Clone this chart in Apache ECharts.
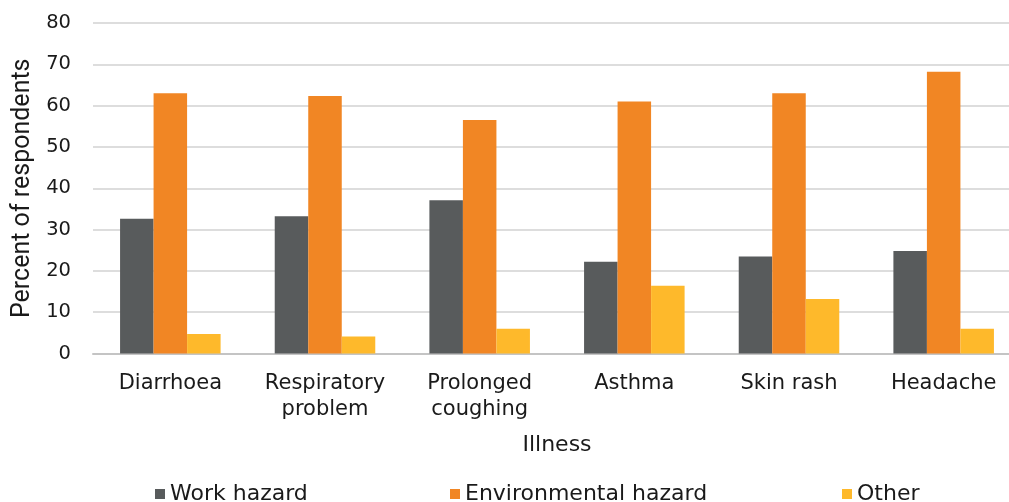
<!DOCTYPE html>
<html>
<head>
<meta charset="utf-8">
<title>Illness by perceived cause</title>
<script src="https://cdn.jsdelivr.net/npm/echarts@6/dist/echarts.min.js"></script>
<style>
  html, body { margin: 0; padding: 0; background: #ffffff; }
  #chart { width: 1009px; height: 502px; }
</style>
</head>
<body>
<div id="chart"></div>
<script>
// Illness categories (x axis); "\n" splits two-line labels
const categories = ['Diarrhoea', 'Respiratory\nproblem', 'Prolonged\ncoughing', 'Asthma', 'Skin rash', 'Headache'];

// Percent of respondents attributing each illness to a cause
const workHazard = [32.6, 33.2, 37.1, 22.2, 23.5, 24.8];
const environmentalHazard = [63.0, 62.3, 56.5, 61.0, 63.0, 68.2];
const other = [4.7, 4.1, 6.0, 16.4, 13.2, 6.0];

const seriesNames = ['Work hazard', 'Environmental hazard', 'Other'];
const seriesColors = ['#585b5c', '#f18624', '#feb92b'];

// Y axis range and step
const yMin = 0;
const yMax = 80;
const yStep = 10;

const textFont = 'DejaVu Sans';
const textColor = '#1a1a1a';

const chart = echarts.init(document.getElementById('chart'), null, { renderer: 'canvas' });

function legendAt(name, left) {
  return {
    data: [name],
    left: left,
    top: 483,
    orient: 'horizontal',
    icon: 'rect',
    itemWidth: 10,
    itemHeight: 10,
    selectedMode: false,
    padding: 0,
    textStyle: { fontFamily: textFont, fontSize: 22, color: textColor }
  };
}

const seriesData = [workHazard, environmentalHazard, other];

chart.setOption({
  animation: false,
  backgroundColor: '#ffffff',
  // the plot runs past the right edge of the canvas, so the last group sits near the border
  grid: {
    left: 93, width: 928, top: 23, height: 330.5,
    containLabel: false,
    outerBoundsMode: 'none'
  },
  legend: [
    legendAt(seriesNames[0], 155),
    legendAt(seriesNames[1], 450),
    legendAt(seriesNames[2], 842)
  ],
  xAxis: {
    type: 'category',
    data: categories,
    name: 'Illness',
    nameLocation: 'middle',
    nameGap: 81,
    nameTextStyle: { fontFamily: textFont, fontSize: 22, color: textColor },
    axisLine: { show: true, lineStyle: { color: '#c4c4c4', width: 2 } },
    axisTick: { show: false },
    axisLabel: {
      fontFamily: textFont,
      fontSize: 21,
      lineHeight: 26,
      color: textColor,
      margin: 17,
      interval: 0
    }
  },
  yAxis: {
    type: 'value',
    min: yMin,
    max: yMax,
    interval: yStep,
    name: 'Percent of respondents',
    nameLocation: 'middle',
    nameGap: 58,
    nameRotate: 90,
    nameTextStyle: { fontFamily: 'Roboto', fontSize: 25, color: textColor },
    axisLine: { show: false },
    axisTick: { show: false },
    axisLabel: { fontFamily: textFont, fontSize: 19.5, color: textColor, margin: 22 },
    splitLine: { show: true, lineStyle: { color: '#d2d2d2', width: 1.5 } }
  },
  series: seriesNames.map((name, i) => ({
    name: name,
    type: 'bar',
    data: seriesData[i],
    barGap: '0%',
    barCategoryGap: '35%',
    itemStyle: { color: seriesColors[i] }
  }))
});
</script>
</body>
</html>
